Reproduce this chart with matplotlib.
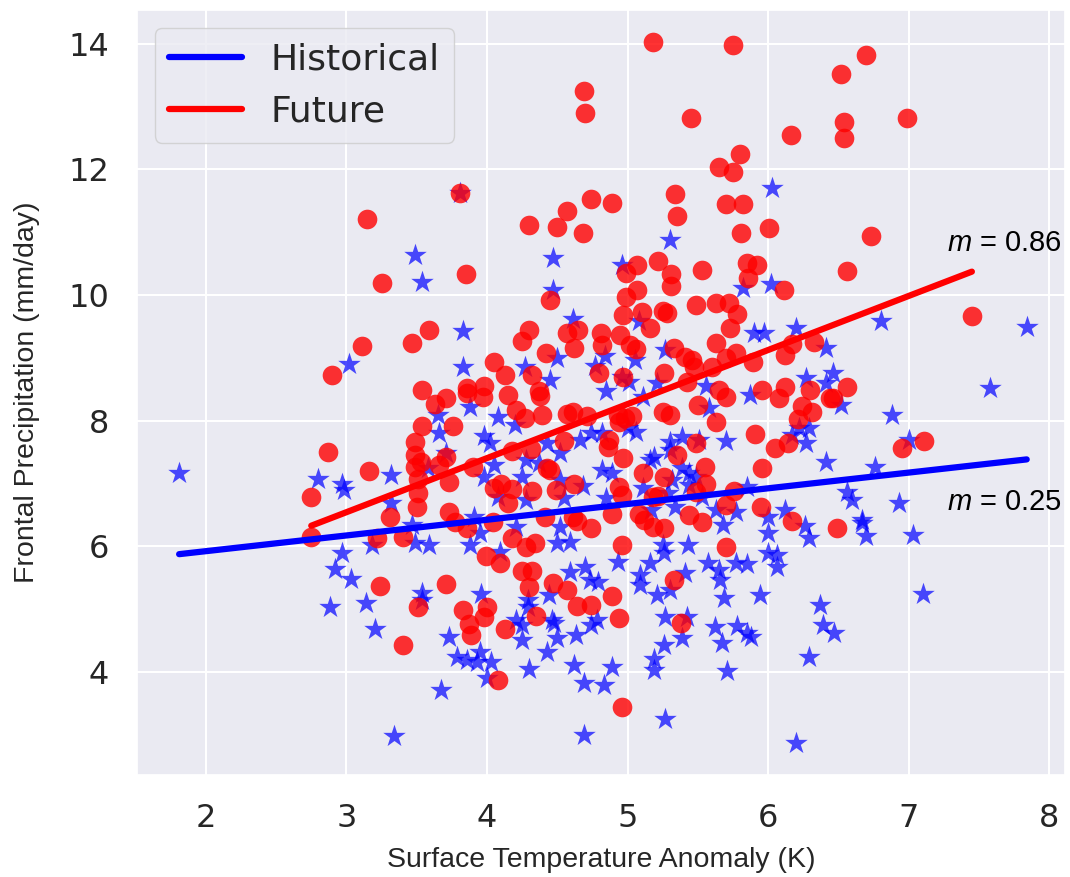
import numpy as np
import matplotlib
matplotlib.use("Agg")
import matplotlib.pyplot as plt
import seaborn as sns

# Historical (blue stars): surface temperature anomaly (K), frontal precip (mm/day)
hist_x = [6.03, 5.30, 4.96, 5.82, 6.02, 3.81, 3.49, 3.54, 4.47, 4.47,
          3.02, 1.81, 2.80, 2.97, 2.98, 3.32,
          3.83, 4.61, 3.83, 4.27, 4.50, 4.45, 4.77, 4.84, 4.85, 3.88,
          3.65, 4.08, 4.20, 3.66, 3.98, 4.02, 4.43, 4.74, 4.66, 4.82,
          3.71, 4.52, 4.05, 4.28, 4.37, 4.82, 3.58, 3.98, 4.25, 4.52,
          3.32, 4.08, 4.28, 4.55, 4.68, 3.91, 4.21, 3.47,
          5.08, 5.27, 5.05, 5.90, 5.97, 6.20, 6.41, 4.96, 5.01, 5.11,
          5.21, 5.56, 5.87, 5.58, 6.27, 6.41, 5.06, 5.00, 6.22, 6.29,
          6.17, 6.27, 5.70, 5.30, 5.39, 5.51, 5.19, 5.16, 5.30, 5.39,
          5.44, 4.89, 5.32, 5.49, 5.44, 5.11, 5.29, 5.85, 5.53, 6.41,
          5.34, 5.63, 5.77, 6.00, 6.12, 4.85, 5.17, 5.68, 6.26,
          6.80, 7.84, 7.58, 6.46, 6.52, 6.88, 7.00, 6.76, 6.56, 6.60,
          6.93, 6.67,
          2.97, 2.92, 3.03, 2.88, 3.14, 3.20, 3.18,
          3.49, 3.59, 3.88, 3.95, 4.09, 4.50, 4.59, 4.52, 3.54, 3.54,
          3.96, 4.29, 4.29, 4.44, 4.59, 4.70, 4.73, 4.79, 4.21, 4.25,
          4.46, 4.48, 4.25, 4.50, 4.43, 4.63, 4.78, 4.74, 3.73, 3.79,
          3.86, 3.93, 3.95, 4.03, 4.00, 4.30, 4.62, 4.69, 4.83, 3.67,
          3.34, 4.69,
          4.93, 5.25, 5.26, 5.43, 5.16, 5.09, 5.09, 5.21, 5.30, 5.41,
          5.57, 5.65, 5.66, 5.77, 5.85, 5.69, 5.94, 6.00, 6.00, 6.06,
          6.06, 6.29, 5.27, 5.42, 5.39, 5.26, 5.19, 5.19, 5.62, 5.67,
          5.78, 5.85, 5.88, 5.71, 4.89, 5.27, 6.20, 6.37, 6.39, 6.29,
          6.67, 6.70, 7.03, 7.10, 6.47]
hist_y = [11.71, 10.88, 10.48, 10.11, 10.18, 11.63, 10.64, 10.21, 10.59, 10.08,
          8.90, 7.17, 7.07, 6.99, 6.90, 7.14,
          9.43, 9.62, 8.86, 8.86, 9.00, 8.65, 8.87, 9.03, 8.47, 8.22,
          8.09, 8.06, 7.93, 7.81, 7.76, 7.65, 7.65, 7.81, 7.69, 7.81,
          7.49, 7.49, 7.30, 7.38, 7.33, 7.22, 7.25, 7.11, 7.11, 7.06,
          6.69, 6.79, 6.74, 6.77, 6.96, 6.47, 6.31, 6.34,
          9.59, 9.13, 8.97, 9.40, 9.40, 9.48, 9.16, 8.70, 8.62, 8.38,
          8.60, 8.55, 8.41, 8.20, 8.68, 8.60, 7.82, 7.89, 7.89, 7.89,
          7.77, 7.65, 7.68, 7.66, 7.74, 7.69, 7.42, 7.38, 7.54, 7.25,
          7.17, 7.17, 7.06, 7.11, 6.98, 6.93, 6.85, 6.95, 6.79, 7.34,
          6.63, 6.58, 6.55, 6.47, 6.58, 6.77, 6.58, 6.34, 6.33,
          9.59, 9.49, 8.52, 8.76, 8.25, 8.09, 7.69, 7.26, 6.87, 6.74,
          6.69, 6.42,
          5.89, 5.64, 5.48, 5.04, 5.10, 4.68, 6.02,
          6.05, 6.02, 6.02, 6.21, 5.91, 6.05, 6.07, 6.31, 5.26, 5.15,
          5.24, 5.15, 5.04, 5.23, 5.59, 5.67, 5.46, 5.43, 4.83, 4.75,
          4.83, 4.78, 4.51, 4.54, 4.32, 4.59, 4.83, 4.75, 4.56, 4.24,
          4.19, 4.16, 4.32, 4.16, 3.90, 4.05, 4.11, 3.82, 3.79, 3.71,
          2.98, 3.00,
          5.75, 6.02, 5.89, 6.02, 5.74, 5.54, 5.39, 5.23, 5.31, 5.58,
          5.74, 5.62, 5.46, 5.74, 5.72, 5.18, 5.23, 6.21, 5.89, 5.86,
          5.67, 6.13, 4.88, 4.88, 4.54, 4.43, 4.21, 4.03, 4.72, 4.46,
          4.73, 4.62, 4.56, 4.02, 4.08, 3.25, 2.87, 5.07, 4.75, 4.24,
          6.37, 6.17, 6.18, 5.24, 4.62]

# Future (red circles)
fut_x = [5.18, 5.75, 6.70, 6.52, 4.69, 4.70, 5.45, 6.54, 6.54, 6.99,
         6.16, 5.80, 5.65, 5.75, 3.81, 3.15, 4.74, 4.89, 5.34, 5.35,
         5.70, 5.82, 4.57, 4.30, 4.50, 4.68, 5.81, 6.01, 6.73, 5.22,
         5.07, 4.99, 5.31, 5.53, 5.85, 5.92, 5.86, 6.56, 3.85, 3.25,
         5.07, 5.31, 6.11, 7.45,
         3.11, 2.90, 2.87, 3.16, 2.75, 2.75, 3.31,
         4.45, 3.47, 3.59, 4.30, 4.25, 4.57, 4.65, 4.62, 4.81, 4.82,
         4.42, 4.05, 4.13, 4.32, 4.80, 3.54, 3.71, 3.63, 3.86, 3.98,
         3.86, 3.97, 4.15, 4.37, 4.38, 4.21, 4.27, 4.39, 4.57, 4.61,
         4.71, 3.54, 3.76, 3.49, 4.55, 3.71, 3.49, 3.66, 4.31, 4.18,
         4.86, 3.49, 3.53, 3.90, 4.43, 4.45, 3.51, 3.73, 4.10, 4.05,
         4.18, 4.32, 4.49, 4.62, 3.51, 3.50, 4.15, 3.73, 4.41, 4.61,
         4.04, 3.77, 4.74,
         4.99, 4.97, 5.10, 5.25, 5.28, 5.16, 5.49, 5.63, 5.72, 5.78,
         5.73, 4.95, 5.02, 5.06, 5.33, 5.41, 5.46, 5.47, 5.63, 5.70,
         5.77, 5.89, 5.60, 6.12, 6.17, 6.33, 4.97, 5.26, 5.42, 5.65,
         5.70, 5.96, 6.12, 6.08, 6.30, 6.44, 4.93, 4.94, 4.98, 5.03,
         5.25, 5.30, 5.50, 5.63, 5.91, 6.24, 6.31, 6.21, 4.87, 4.97,
         5.49, 5.35, 6.05, 6.14, 5.96, 5.11, 5.26, 5.55, 5.56, 4.94,
         4.96, 5.18, 5.22, 5.49, 5.76, 5.70, 5.95, 5.08, 5.12, 4.89,
         5.44, 5.53, 6.17, 5.26, 5.18,
         6.56, 6.46, 6.95, 7.11, 6.49,
         3.22, 3.24,
         3.40, 3.86, 4.18, 4.28, 4.34, 3.99, 4.09, 4.25, 4.32, 4.30,
         4.47, 4.57, 4.64, 4.74, 4.89, 3.71, 3.51, 3.83, 4.00, 3.98,
         3.87, 3.89, 4.13, 4.35, 3.40, 4.08, 4.64,
         4.96, 5.70, 5.33, 4.94, 5.38, 4.96]
fut_y = [14.03, 13.98, 13.82, 13.51, 13.25, 12.89, 12.82, 12.76, 12.50, 12.82,
         12.55, 12.25, 12.04, 11.96, 11.63, 11.21, 11.53, 11.47, 11.60, 11.25,
         11.45, 11.45, 11.34, 11.12, 11.09, 10.99, 10.99, 11.07, 10.94, 10.54,
         10.48, 10.35, 10.34, 10.40, 10.51, 10.48, 10.27, 10.39, 10.34, 10.19,
         10.08, 10.15, 10.08, 9.67,
         9.19, 8.73, 7.50, 7.20, 6.79, 6.15, 6.47,
         9.92, 9.24, 9.45, 9.45, 9.27, 9.40, 9.45, 9.16, 9.40, 9.21,
         9.08, 8.94, 8.73, 8.73, 8.76, 8.49, 8.36, 8.27, 8.52, 8.55,
         8.44, 8.38, 8.41, 8.47, 8.39, 8.17, 8.04, 8.09, 8.11, 8.14,
         8.08, 7.92, 7.92, 7.66, 7.68, 7.42, 7.46, 7.30, 7.55, 7.52,
         7.58, 7.26, 7.34, 7.26, 7.25, 7.22, 7.07, 7.03, 6.99, 6.93,
         6.91, 6.88, 6.90, 6.99, 6.85, 6.63, 6.69, 6.55, 6.47, 6.47,
         6.39, 6.39, 6.29,
         9.97, 9.68, 9.73, 9.75, 9.72, 9.48, 9.84, 9.88, 9.88, 9.70,
         9.48, 9.37, 9.21, 9.14, 9.16, 9.02, 8.97, 8.86, 9.24, 9.00,
         9.08, 8.94, 8.86, 9.05, 9.22, 9.25, 8.70, 8.76, 8.62, 8.49,
         8.38, 8.49, 8.54, 8.36, 8.49, 8.36, 8.09, 7.98, 8.04, 8.08,
         8.14, 8.09, 8.25, 7.98, 7.79, 8.24, 8.14, 8.03, 7.69, 7.41,
         7.65, 7.46, 7.57, 7.65, 7.25, 7.17, 7.11, 7.26, 6.99, 6.95,
         6.82, 6.79, 6.80, 6.87, 6.88, 6.66, 6.63, 6.52, 6.42, 6.52,
         6.50, 6.39, 6.40, 6.29, 6.31,
         8.54, 8.36, 7.57, 7.68, 6.29,
         6.13, 5.37,
         6.15, 6.29, 6.13, 5.99, 6.05, 5.85, 5.74, 5.61, 5.61, 5.35,
         5.42, 5.31, 5.05, 5.07, 5.21, 5.40, 5.04, 4.99, 5.04, 4.88,
         4.76, 4.59, 4.68, 4.89, 4.43, 3.87, 6.40,
         6.02, 5.99, 5.46, 4.86, 4.78, 3.44]

# fitted trend lines (slope, intercept)
hist_fit = (0.25, 5.425)
fut_fit = (0.86, 3.965)
slope_labels = ["0.25", "0.86"]

sns.set_theme(style="darkgrid")
plt.rcParams["mathtext.fontset"] = "custom"
plt.rcParams["mathtext.it"] = "Liberation Sans:italic"
plt.rcParams["mathtext.rm"] = "Liberation Sans"

fig = plt.figure(figsize=(10.7, 8.77), dpi=100)
ax = fig.add_axes([0.128, 0.116, 0.867, 0.873])

ax.scatter(hist_x, hist_y, marker="*", s=290, color="blue", alpha=0.7, linewidths=0)
ax.scatter(fut_x, fut_y, marker="o", s=200, color="red", alpha=0.8, linewidths=0)

hx = np.array([min(hist_x), max(hist_x)])
fx = np.array([min(fut_x), max(fut_x)])
ax.plot(hx, hist_fit[0] * hx + hist_fit[1], color="blue", lw=4.5, label="Historical")
ax.plot(fx, fut_fit[0] * fx + fut_fit[1], color="red", lw=4.5, label="Future")

ax.text(7.27, 10.83, "$m$ = " + slope_labels[1], fontsize=21, family="Liberation Sans",
        va="center", color="black")
ax.text(7.27, 6.71, "$m$ = " + slope_labels[0], fontsize=21, family="Liberation Sans",
        va="center", color="black")

ax.set_xlim(1.51, 8.11)
ax.set_ylim(2.36, 14.54)
ax.set_xticks([2, 3, 4, 5, 6, 7, 8])
ax.set_yticks([4, 6, 8, 10, 12, 14])
ax.grid(linewidth=1.5)
ax.tick_params(labelsize=23, pad=14)
ax.set_xlabel("Surface Temperature Anomaly (K)", fontsize=20.5, family="Liberation Sans",
              labelpad=9)
ax.set_ylabel("Frontal Precipitation (mm/day)", fontsize=20.5, family="Liberation Sans",
              labelpad=20)

ax.legend(loc="upper left", fontsize=26)

fig.savefig("out.png", dpi=100)
